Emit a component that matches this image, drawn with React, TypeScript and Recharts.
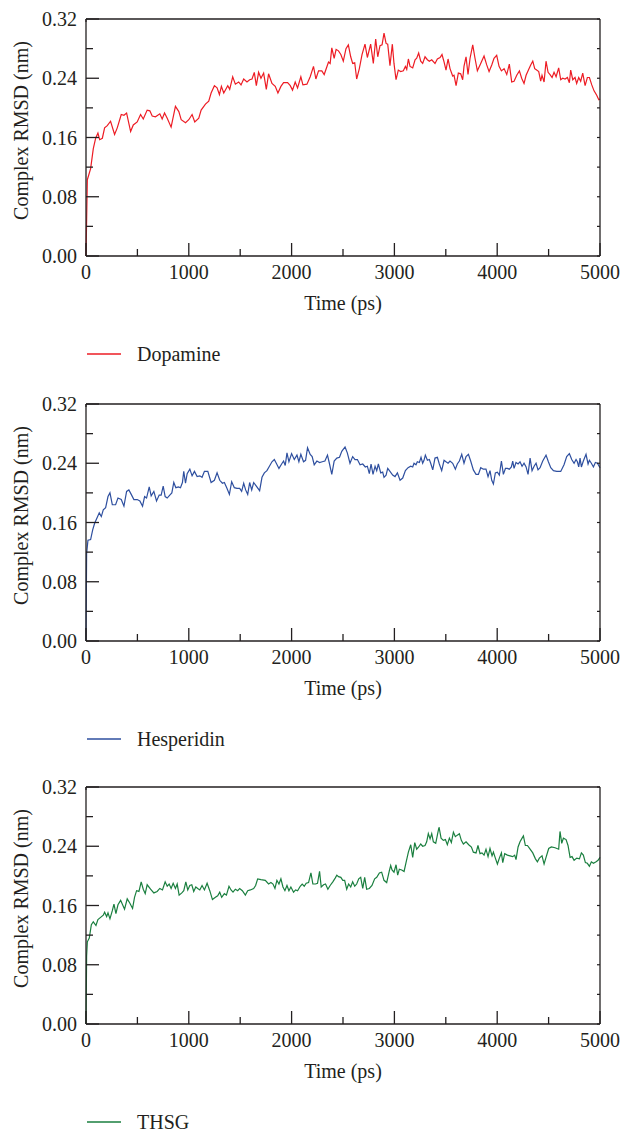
import React from 'react'
import { LineChart, Line, XAxis, YAxis, Label } from 'recharts'

// [time (ps), complex RMSD (nm)]
const dopamine: [number, number][] = [
  [0, 0], [13, 0.103], [45, 0.118], [71, 0.145], [94, 0.159], [116, 0.166], [133, 0.157], [159, 0.159], [181, 0.173], [207, 0.176],
  [239, 0.182], [278, 0.164], [304, 0.173], [343, 0.191], [369, 0.19], [395, 0.193], [434, 0.168], [460, 0.177], [498, 0.181], [531, 0.191],
  [557, 0.185], [595, 0.197], [621, 0.196], [644, 0.189], [676, 0.188], [718, 0.192], [741, 0.185], [764, 0.193], [790, 0.186], [828, 0.174],
  [870, 0.202], [903, 0.195], [926, 0.184], [968, 0.18], [1000, 0.184], [1032, 0.191], [1058, 0.181], [1097, 0.186], [1120, 0.197], [1162, 0.205],
  [1194, 0.209], [1217, 0.22], [1249, 0.23], [1275, 0.227], [1298, 0.218], [1317, 0.229], [1340, 0.22], [1379, 0.23], [1398, 0.225], [1427, 0.242],
  [1453, 0.232], [1485, 0.235], [1508, 0.231], [1534, 0.239], [1566, 0.235], [1592, 0.238], [1615, 0.239], [1637, 0.248], [1657, 0.23], [1679, 0.248],
  [1702, 0.24], [1728, 0.247], [1754, 0.225], [1776, 0.246], [1809, 0.233], [1841, 0.229], [1867, 0.22], [1896, 0.229], [1922, 0.234], [1961, 0.234],
  [1987, 0.23], [2009, 0.224], [2035, 0.235], [2058, 0.227], [2090, 0.242], [2110, 0.231], [2149, 0.232], [2181, 0.242], [2213, 0.256], [2236, 0.239],
  [2262, 0.25], [2294, 0.25], [2317, 0.245], [2359, 0.262], [2375, 0.26], [2391, 0.281], [2414, 0.267], [2433, 0.279], [2456, 0.277], [2479, 0.272],
  [2503, 0.263], [2529, 0.28], [2552, 0.285], [2575, 0.269], [2594, 0.26], [2614, 0.261], [2633, 0.239], [2659, 0.253], [2685, 0.272], [2714, 0.286],
  [2737, 0.268], [2769, 0.286], [2795, 0.26], [2818, 0.293], [2838, 0.269], [2860, 0.284], [2880, 0.285], [2899, 0.301], [2919, 0.287], [2935, 0.286],
  [2957, 0.257], [2980, 0.286], [2996, 0.26], [3016, 0.238], [3038, 0.251], [3061, 0.249], [3087, 0.25], [3107, 0.256], [3120, 0.252], [3136, 0.266],
  [3152, 0.256], [3178, 0.254], [3201, 0.265], [3217, 0.267], [3236, 0.274], [3256, 0.263], [3275, 0.26], [3298, 0.269], [3321, 0.265], [3340, 0.263],
  [3363, 0.265], [3395, 0.26], [3418, 0.266], [3444, 0.268], [3463, 0.272], [3483, 0.262], [3502, 0.251], [3522, 0.266], [3541, 0.253], [3567, 0.243],
  [3580, 0.244], [3600, 0.23], [3622, 0.247], [3645, 0.246], [3664, 0.238], [3677, 0.256], [3697, 0.269], [3716, 0.245], [3736, 0.267], [3762, 0.285],
  [3784, 0.267], [3807, 0.25], [3833, 0.258], [3872, 0.27], [3898, 0.258], [3921, 0.249], [3947, 0.258], [3969, 0.267], [3995, 0.271], [4018, 0.256],
  [4041, 0.25], [4067, 0.253], [4093, 0.245], [4118, 0.259], [4141, 0.235], [4164, 0.236], [4190, 0.244], [4216, 0.25], [4238, 0.24], [4261, 0.233],
  [4281, 0.244], [4307, 0.252], [4326, 0.258], [4346, 0.263], [4365, 0.253], [4384, 0.251], [4404, 0.249], [4423, 0.236], [4436, 0.244], [4456, 0.235],
  [4475, 0.263], [4495, 0.248], [4514, 0.245], [4534, 0.241], [4553, 0.248], [4573, 0.242], [4598, 0.254], [4618, 0.238], [4637, 0.24], [4660, 0.239],
  [4683, 0.241], [4702, 0.234], [4715, 0.251], [4735, 0.238], [4757, 0.241], [4773, 0.233], [4793, 0.241], [4812, 0.236], [4832, 0.247], [4855, 0.23],
  [4877, 0.241], [4897, 0.241], [4920, 0.231], [4942, 0.223], [4968, 0.217], [4988, 0.211], [5000, 0.212],
]

const hesperidin: [number, number][] = [
  [0, 0], [6, 0.118], [19, 0.136], [45, 0.137], [65, 0.15], [84, 0.159], [110, 0.167], [129, 0.173], [149, 0.168], [168, 0.177],
  [191, 0.18], [214, 0.195], [233, 0.2], [256, 0.184], [288, 0.184], [311, 0.193], [343, 0.191], [369, 0.182], [395, 0.202], [417, 0.204],
  [440, 0.198], [466, 0.191], [498, 0.191], [524, 0.189], [550, 0.182], [570, 0.195], [589, 0.193], [615, 0.208], [634, 0.196], [660, 0.202],
  [686, 0.189], [712, 0.197], [731, 0.197], [751, 0.209], [770, 0.195], [790, 0.193], [815, 0.197], [835, 0.2], [854, 0.214], [874, 0.207],
  [900, 0.208], [919, 0.207], [938, 0.214], [951, 0.229], [968, 0.213], [984, 0.226], [1010, 0.232], [1032, 0.223], [1055, 0.229], [1081, 0.222],
  [1107, 0.223], [1129, 0.221], [1152, 0.229], [1185, 0.229], [1217, 0.214], [1249, 0.217], [1275, 0.227], [1301, 0.217], [1327, 0.213], [1346, 0.214],
  [1372, 0.206], [1395, 0.198], [1417, 0.215], [1443, 0.207], [1469, 0.206], [1495, 0.206], [1514, 0.202], [1534, 0.213], [1553, 0.204], [1573, 0.198],
  [1592, 0.214], [1612, 0.204], [1631, 0.214], [1657, 0.209], [1689, 0.203], [1712, 0.221], [1735, 0.227], [1760, 0.23], [1780, 0.235], [1809, 0.242],
  [1832, 0.245], [1851, 0.24], [1877, 0.233], [1903, 0.239], [1922, 0.243], [1938, 0.237], [1955, 0.254], [1974, 0.242], [2000, 0.253], [2026, 0.245],
  [2052, 0.251], [2071, 0.242], [2090, 0.252], [2116, 0.242], [2136, 0.244], [2155, 0.261], [2181, 0.252], [2200, 0.249], [2220, 0.238], [2246, 0.243],
  [2272, 0.241], [2298, 0.242], [2324, 0.243], [2349, 0.251], [2369, 0.239], [2391, 0.225], [2414, 0.243], [2440, 0.247], [2466, 0.248], [2488, 0.256],
  [2520, 0.262], [2542, 0.254], [2568, 0.24], [2594, 0.249], [2617, 0.245], [2640, 0.245], [2666, 0.238], [2692, 0.239], [2717, 0.235], [2737, 0.236],
  [2756, 0.226], [2773, 0.239], [2792, 0.225], [2812, 0.236], [2828, 0.23], [2844, 0.239], [2867, 0.227], [2886, 0.228], [2899, 0.221], [2919, 0.224],
  [2935, 0.233], [2957, 0.229], [2983, 0.224], [3006, 0.222], [3029, 0.227], [3055, 0.217], [3081, 0.22], [3107, 0.23], [3133, 0.234], [3159, 0.236],
  [3178, 0.235], [3191, 0.24], [3210, 0.238], [3223, 0.242], [3243, 0.241], [3259, 0.248], [3275, 0.24], [3288, 0.244], [3301, 0.251], [3321, 0.244],
  [3340, 0.245], [3353, 0.24], [3373, 0.231], [3395, 0.247], [3418, 0.248], [3437, 0.239], [3460, 0.23], [3483, 0.244], [3502, 0.242], [3522, 0.24],
  [3541, 0.243], [3567, 0.24], [3593, 0.232], [3612, 0.239], [3632, 0.243], [3655, 0.252], [3677, 0.24], [3697, 0.249], [3720, 0.252], [3742, 0.243],
  [3768, 0.231], [3794, 0.225], [3817, 0.225], [3840, 0.234], [3865, 0.232], [3891, 0.232], [3911, 0.222], [3930, 0.23], [3947, 0.217], [3963, 0.212],
  [3982, 0.227], [4002, 0.228], [4021, 0.224], [4041, 0.243], [4060, 0.225], [4080, 0.233], [4099, 0.233], [4118, 0.232], [4138, 0.235], [4151, 0.243],
  [4164, 0.233], [4183, 0.241], [4203, 0.239], [4222, 0.242], [4242, 0.236], [4261, 0.24], [4281, 0.235], [4300, 0.225], [4320, 0.247], [4339, 0.23],
  [4359, 0.236], [4378, 0.24], [4397, 0.231], [4417, 0.234], [4443, 0.243], [4475, 0.251], [4498, 0.242], [4521, 0.234], [4547, 0.23], [4579, 0.229],
  [4618, 0.229], [4650, 0.238], [4676, 0.249], [4702, 0.253], [4725, 0.245], [4748, 0.24], [4767, 0.245], [4780, 0.242], [4793, 0.235], [4806, 0.247],
  [4819, 0.235], [4838, 0.243], [4864, 0.252], [4884, 0.239], [4897, 0.244], [4916, 0.24], [4936, 0.235], [4955, 0.241], [4975, 0.24], [5000, 0.234],
]

const thsg: [number, number][] = [
  [0, 0], [6, 0.092], [13, 0.111], [32, 0.116], [52, 0.134], [71, 0.138], [97, 0.133], [116, 0.141], [142, 0.144], [168, 0.147],
  [181, 0.151], [201, 0.145], [214, 0.15], [233, 0.142], [256, 0.153], [272, 0.162], [291, 0.149], [311, 0.161], [337, 0.167], [356, 0.161],
  [375, 0.155], [401, 0.169], [427, 0.163], [453, 0.156], [472, 0.171], [492, 0.18], [515, 0.179], [537, 0.192], [557, 0.182], [576, 0.176],
  [595, 0.188], [628, 0.182], [660, 0.177], [692, 0.179], [718, 0.183], [744, 0.181], [770, 0.192], [790, 0.186], [809, 0.189], [828, 0.183],
  [848, 0.19], [870, 0.183], [887, 0.189], [906, 0.174], [932, 0.177], [951, 0.18], [971, 0.192], [990, 0.181], [1010, 0.187], [1029, 0.188],
  [1048, 0.179], [1068, 0.185], [1087, 0.183], [1107, 0.181], [1129, 0.187], [1152, 0.181], [1178, 0.19], [1204, 0.18], [1230, 0.168], [1259, 0.171],
  [1281, 0.173], [1301, 0.178], [1320, 0.171], [1346, 0.176], [1366, 0.174], [1391, 0.186], [1411, 0.181], [1430, 0.178], [1453, 0.182], [1476, 0.18],
  [1495, 0.183], [1521, 0.18], [1550, 0.174], [1573, 0.18], [1599, 0.181], [1631, 0.183], [1650, 0.187], [1670, 0.196], [1702, 0.195], [1744, 0.194],
  [1776, 0.189], [1799, 0.191], [1819, 0.189], [1838, 0.183], [1857, 0.194], [1877, 0.189], [1896, 0.196], [1916, 0.185], [1935, 0.18], [1955, 0.187],
  [1974, 0.18], [1993, 0.185], [2019, 0.178], [2039, 0.181], [2058, 0.18], [2084, 0.186], [2103, 0.189], [2123, 0.186], [2142, 0.19], [2165, 0.191],
  [2188, 0.204], [2207, 0.189], [2233, 0.189], [2252, 0.19], [2272, 0.206], [2288, 0.185], [2311, 0.188], [2330, 0.189], [2353, 0.182], [2375, 0.187],
  [2401, 0.192], [2424, 0.197], [2440, 0.201], [2456, 0.199], [2479, 0.198], [2498, 0.194], [2516, 0.194], [2536, 0.182], [2555, 0.189], [2575, 0.185],
  [2594, 0.192], [2614, 0.186], [2633, 0.189], [2653, 0.196], [2672, 0.198], [2692, 0.183], [2711, 0.198], [2730, 0.182], [2756, 0.183], [2782, 0.187],
  [2808, 0.196], [2828, 0.198], [2854, 0.204], [2876, 0.205], [2899, 0.194], [2925, 0.191], [2951, 0.207], [2964, 0.214], [2977, 0.208], [2996, 0.205],
  [3016, 0.215], [3032, 0.201], [3048, 0.209], [3071, 0.208], [3094, 0.206], [3113, 0.218], [3136, 0.232], [3159, 0.242], [3178, 0.225], [3198, 0.245],
  [3217, 0.236], [3236, 0.239], [3256, 0.243], [3275, 0.24], [3298, 0.241], [3314, 0.246], [3330, 0.257], [3347, 0.25], [3363, 0.257], [3379, 0.246],
  [3402, 0.244], [3418, 0.255], [3434, 0.266], [3454, 0.251], [3476, 0.248], [3496, 0.249], [3515, 0.242], [3535, 0.251], [3554, 0.245], [3574, 0.259],
  [3593, 0.253], [3612, 0.255], [3632, 0.257], [3651, 0.248], [3671, 0.243], [3697, 0.246], [3723, 0.242], [3749, 0.239], [3768, 0.232], [3794, 0.231],
  [3813, 0.241], [3833, 0.23], [3852, 0.231], [3872, 0.228], [3891, 0.236], [3911, 0.226], [3930, 0.237], [3950, 0.227], [3963, 0.232], [3982, 0.224],
  [4002, 0.216], [4021, 0.224], [4041, 0.231], [4054, 0.218], [4073, 0.23], [4099, 0.228], [4125, 0.227], [4151, 0.226], [4170, 0.228], [4183, 0.222],
  [4203, 0.239], [4222, 0.246], [4242, 0.251], [4255, 0.254], [4274, 0.241], [4294, 0.241], [4320, 0.236], [4346, 0.231], [4372, 0.223], [4391, 0.219],
  [4410, 0.224], [4436, 0.227], [4456, 0.216], [4475, 0.225], [4501, 0.237], [4527, 0.239], [4563, 0.238], [4598, 0.236], [4611, 0.26], [4628, 0.244],
  [4644, 0.251], [4670, 0.249], [4689, 0.241], [4709, 0.225], [4728, 0.226], [4748, 0.221], [4774, 0.224], [4800, 0.223], [4819, 0.231], [4838, 0.228],
  [4858, 0.218], [4877, 0.217], [4897, 0.213], [4916, 0.219], [4936, 0.217], [4962, 0.219], [4981, 0.221], [5000, 0.225],
]

const timeTicks = [0, 500, 1000, 1500, 2000, 2500, 3000, 3500, 4000, 4500, 5000]
const rmsdTicks = [0, 0.04, 0.08, 0.12, 0.16, 0.2, 0.24, 0.28, 0.32]

const FONT = '"Liberation Serif", "DejaVu Serif", serif'
const INK = '#231f20'
const W = 622

function BottomTick({ x, y, payload }: any) {
  const v = payload.value
  const major = v % 1000 === 0
  return (
    <g>
      <line x1={x} x2={x} y1={y} y2={y - (major ? 13 : 7)} stroke={INK} strokeWidth={1.3} />
      {major && (
        <text x={x} y={y + 23} textAnchor="middle" fontFamily={FONT} fontSize={20} fill={INK}>
          {v}
        </text>
      )}
    </g>
  )
}

function LeftTick({ x, y, payload }: any) {
  const v = payload.value
  const major = Math.round(v * 100) % 8 === 0
  return (
    <g>
      <line x1={x} x2={x + (major ? 13 : 7)} y1={y} y2={y} stroke={INK} strokeWidth={1.3} />
      {major && (
        <text x={x - 9} y={y + 7} textAnchor="end" fontFamily={FONT} fontSize={20} fill={INK}>
          {v.toFixed(2)}
        </text>
      )}
    </g>
  )
}

function RightTick({ x, y }: any) {
  return <line x1={x} x2={x - 3} y1={y} y2={y} stroke={INK} strokeWidth={1.2} />
}

function TopTick({ x, y }: any) {
  return <line x1={x} x2={x} y1={y} y2={y + 3} stroke={INK} strokeWidth={1.2} />
}

function YTitle({ viewBox }: any) {
  const cx = 28
  const cy = (viewBox?.y ?? 19) + (viewBox?.height ?? 237) / 2 - 7
  return (
    <text x={cx} y={cy} transform={`rotate(-90 ${cx} ${cy})`} textAnchor="middle" fontFamily={FONT} fontSize={20} fill={INK}>
      Complex RMSD (nm)
    </text>
  )
}

function XTitle({ viewBox }: any) {
  const cx = (viewBox?.x ?? 86) + (viewBox?.width ?? 514) / 2
  const cy = (viewBox?.y ?? 256) + 54
  return (
    <text x={cx} y={cy} textAnchor="middle" fontFamily={FONT} fontSize={20} fill={INK}>
      Time (ps)
    </text>
  )
}

function RmsdPanel({ series, color, name, top }: { series: [number, number][]; color: string; name: string; top: number }) {
  const data = series.map(([t, v]) => ({ t, v }))
  return (
    <div style={{ position: 'absolute', left: 0, top, width: W, height: 380 }}>
      <LineChart width={W} height={316} data={data} margin={{ top: 0, right: 0, bottom: 0, left: 0 }}>
        <XAxis
          dataKey="t"
          type="number"
          domain={[0, 5000]}
          ticks={timeTicks}
          interval={0}
          height={60}
          tickSize={0}
          tickMargin={0}
          tick={<BottomTick />}
          axisLine={{ stroke: INK, strokeWidth: 1.3 }}
          tickLine={false}
        >
          <Label content={<XTitle />} />
        </XAxis>
        <XAxis
          xAxisId="top"
          orientation="top"
          type="number"
          domain={[0, 5000]}
          allowDataOverflow
          ticks={timeTicks}
          interval={0}
          height={19}
          tickSize={0}
          tickMargin={0}
          tick={<TopTick />}
          axisLine={{ stroke: INK, strokeWidth: 1.3 }}
          tickLine={false}
        />
        <YAxis
          type="number"
          domain={[0, 0.32]}
          ticks={rmsdTicks}
          interval={0}
          width={86}
          tickSize={0}
          tickMargin={0}
          tick={<LeftTick />}
          axisLine={{ stroke: INK, strokeWidth: 1.3 }}
          tickLine={false}
        >
          <Label content={<YTitle />} />
        </YAxis>
        <YAxis
          yAxisId="right"
          orientation="right"
          type="number"
          domain={[0, 0.32]}
          allowDataOverflow
          ticks={rmsdTicks}
          interval={0}
          width={22}
          tickSize={0}
          tickMargin={0}
          tick={<RightTick />}
          axisLine={{ stroke: INK, strokeWidth: 1.3 }}
          tickLine={false}
        />
        <Line type="linear" dataKey="v" stroke={color} strokeWidth={1.2} dot={false} isAnimationActive={false} />
      </LineChart>
      <svg width={300} height={30} style={{ position: 'absolute', left: 0, top: 340 }}>
        <line x1={87} x2={121} y1={14} y2={14} stroke={color} strokeWidth={1.3} />
        <text x={137} y={21} fontFamily={FONT} fontSize={20} fill={INK}>
          {name}
        </text>
      </svg>
    </div>
  )
}

export default function App() {
  return (
    <div style={{ position: 'absolute', left: 0, top: 0, width: W, height: 1133, background: '#fff' }}>
      <RmsdPanel series={dopamine} color="#ed1c24" name="Dopamine" top={0} />
      <RmsdPanel series={hesperidin} color="#2e4f9f" name="Hesperidin" top={385} />
      <RmsdPanel series={thsg} color="#1a7f3f" name="THSG" top={768} />
    </div>
  )
}
